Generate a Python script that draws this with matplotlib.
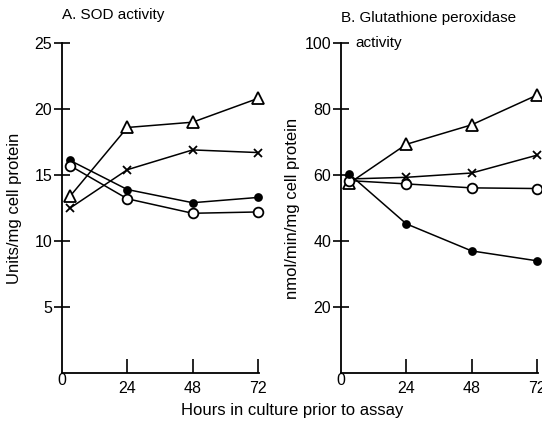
import matplotlib
matplotlib.use("Agg")
import matplotlib.pyplot as plt

plt.rcParams['font.family'] = ['Liberation Sans', 'DejaVu Sans']

hours = [3, 24, 48, 72]

# Panel A: SOD activity (units/mg cell protein)
sod_triangle = [13.4, 18.6, 19.0, 20.8]
sod_cross = [12.5, 15.4, 16.9, 16.7]
sod_filled = [16.1, 13.9, 12.9, 13.3]
sod_open = [15.7, 13.2, 12.1, 12.2]

# Panel B: Glutathione peroxidase activity (nmol/min/mg cell protein)
gpx_triangle = [57.5, 69.3, 75.2, 84.2]
gpx_cross = [58.8, 59.3, 60.6, 66.0]
gpx_open = [58.3, 57.3, 56.1, 55.9]
gpx_filled = [60.3, 45.2, 37.0, 34.0]

a_yticks = [5, 10, 15, 20, 25]
b_yticks = [20, 40, 60, 80, 100]
xticks = [24, 48, 72]

fig = plt.figure(figsize=(5.42, 4.23), dpi=100)
axA = fig.add_axes([62/542, 50/423, 197/542, 330/423])
axB = fig.add_axes([341/542, 50/423, 197/542, 330/423])

def style(ax, ymax, yticks):
    ax.set_xlim(0, 72.4)
    ax.set_ylim(0, ymax)
    ax.spines['top'].set_visible(False)
    ax.spines['right'].set_visible(False)
    for s in ('left', 'bottom'):
        ax.spines[s].set_linewidth(1.3)
    ax.set_yticks(yticks)
    ax.set_xticks(xticks)
    ax.tick_params(axis='y', direction='inout', length=12, width=1.2, labelsize=11.5, pad=1)
    ax.tick_params(axis='x', direction='in', length=10, width=1.2, labelsize=11.5, pad=6)
    ax.text(0, -0.025, '0', transform=ax.get_yaxis_transform(), ha='center', va='top', fontsize=11.5)

def series(ax, y, marker, mfc, ms):
    ax.plot(hours, y, color='black', lw=1.1, marker=marker, mfc=mfc, mec='black',
            ms=ms, mew=1.3, clip_on=False, zorder=3)

style(axA, 25, a_yticks)
series(axA, sod_triangle, '^', 'white', 8)
series(axA, sod_cross, 'x', 'black', 6)
series(axA, sod_filled, 'o', 'black', 5)
series(axA, sod_open, 'o', 'white', 7)
axA.set_ylabel('Units/mg cell protein', fontsize=12, labelpad=9)
axA.text(0, 1.085, 'A. SOD activity', transform=axA.transAxes, fontsize=11, ha='left', va='center')

style(axB, 100, b_yticks)
series(axB, gpx_triangle, '^', 'white', 8)
series(axB, gpx_cross, 'x', 'black', 6)
series(axB, gpx_open, 'o', 'white', 7)
series(axB, gpx_filled, 'o', 'black', 5)
axB.set_ylabel('nmol/min/mg cell protein', fontsize=12, labelpad=3)
axB.text(0.0, 1.075, 'B. Glutathione peroxidase', transform=axB.transAxes, fontsize=11, ha='left', va='center')
axB.text(0.075, 1.0, 'activity', transform=axB.transAxes, fontsize=11, ha='left', va='center')

fig.text(292/542, 1 - 410/423, 'Hours in culture prior to assay', ha='center', va='center', fontsize=12)

fig.savefig('out.png', dpi=100)
